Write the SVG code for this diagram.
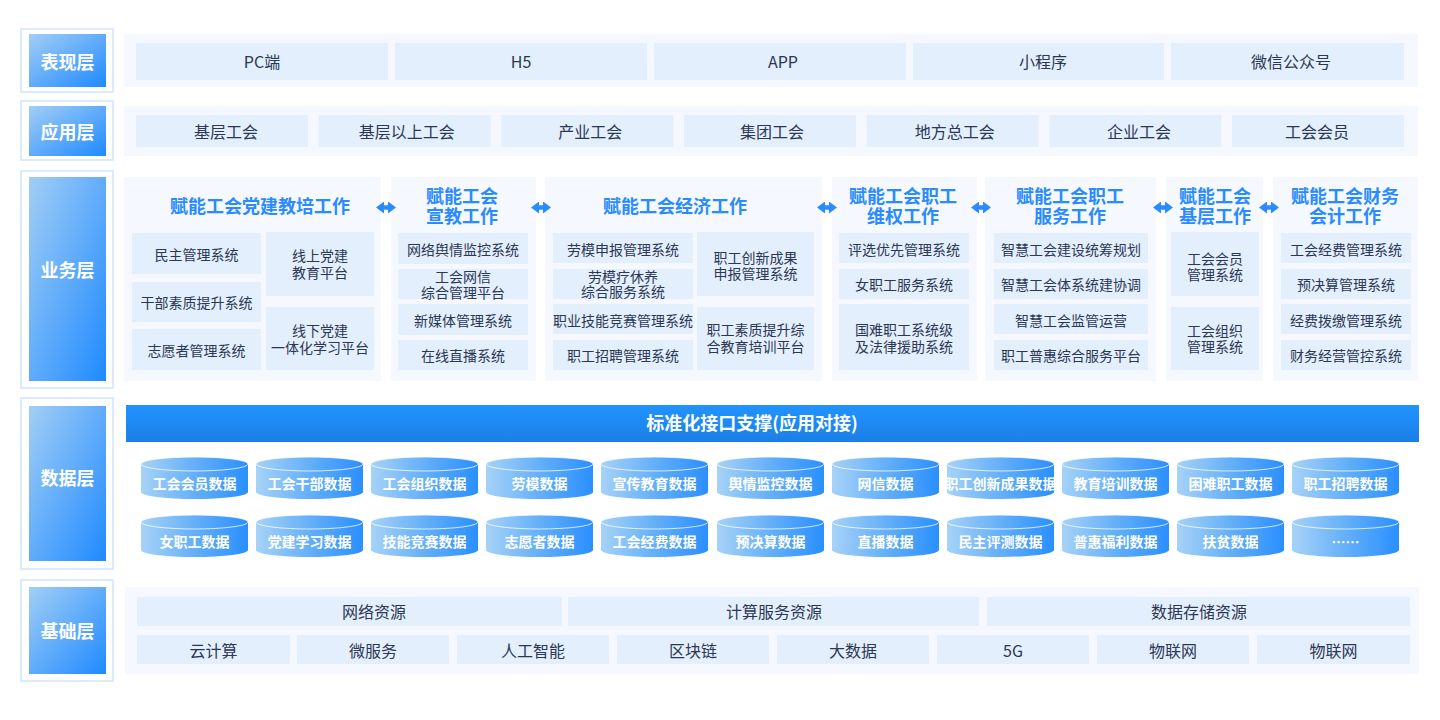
<svg xmlns="http://www.w3.org/2000/svg" xmlns:xlink="http://www.w3.org/1999/xlink" width="1440" height="720" viewBox="0 0 1440 720">
<defs>
  <linearGradient id="gLabel" x1="0" y1="0" x2="1" y2="1">
    <stop offset="0" stop-color="#a2cef5"/>
    <stop offset="1" stop-color="#1f8aff"/>
  </linearGradient>
  <linearGradient id="gBar" x1="0" y1="0" x2="0" y2="1">
    <stop offset="0" stop-color="#2193ff"/>
    <stop offset="1" stop-color="#1b80e6"/>
  </linearGradient>
  <linearGradient id="gCyl" x1="0" y1="0" x2="1" y2="0">
    <stop offset="0" stop-color="#a6d2f7"/>
    <stop offset="0.55" stop-color="#5eacf9"/>
    <stop offset="1" stop-color="#2a8fff"/>
  </linearGradient>
  <g id="cyl">
    <path d="M0,7 V35 A53.5,7 0 0 0 107,35 V7 Z" fill="url(#gCyl)"/>
    <ellipse cx="53.5" cy="7" rx="53.5" ry="7" fill="url(#gCyl)" stroke="#ffffff" stroke-opacity="0.75" stroke-width="1"/>
  </g>
  <marker id="ah" viewBox="0 0 8 12" refX="1" refY="6" markerWidth="8" markerHeight="12" markerUnits="userSpaceOnUse" orient="auto-start-reverse">
    <path d="M0,0 L8,6 L0,12 Z" fill="#2a8bff"/>
  </marker>
</defs>
<style>
  text { font-family: "Noto Sans CJK SC", "Noto Sans", sans-serif; text-anchor: middle; dominant-baseline: central; }
  .lo { fill: #ffffff; stroke: #cfe3fb; stroke-width: 1.5; }
  .li { fill: url(#gLabel); }
  .lt { fill: #ffffff; font-size: 18px; font-weight: bold; }
  .pn { fill: #f5f9ff; }
  .bx { fill: #e4effd; }
  .t16 { fill: #2b3753; font-size: 16px; }
  .t14 { fill: #2b3753; font-size: 14px; }
  .ttl { fill: #2a8bff; font-size: 18px; font-weight: bold; }
  .dt { fill: #ffffff; font-size: 14px; font-weight: bold; }
  .bar { fill: url(#gBar); }
  .bt { fill: #ffffff; font-size: 18px; font-weight: bold; }
  .arr { stroke: #2a8bff; stroke-width: 4.5; fill: none; marker-start: url(#ah); marker-end: url(#ah); }
</style>
<rect width="1440" height="720" fill="#ffffff"/>

<!-- Layer labels -->
<g id="layer-presentation">
  <rect class="lo" x="21" y="29" width="92" height="63"/>
  <rect class="li" x="29" y="34" width="77" height="53"/>
  <text class="lt" x="67.5" y="61">表现层</text>
</g>
<g id="layer-application">
  <rect class="lo" x="21" y="101" width="92" height="59"/>
  <rect class="li" x="29" y="106" width="77" height="50"/>
  <text class="lt" x="67.5" y="131">应用层</text>
</g>
<g id="layer-business">
  <rect class="lo" x="21" y="171" width="92" height="217"/>
  <rect class="li" x="29" y="177" width="77" height="204"/>
  <text class="lt" x="67.5" y="269">业务层</text>
</g>
<g id="layer-data">
  <rect class="lo" x="21" y="398" width="92" height="171"/>
  <rect class="li" x="29" y="406" width="77" height="155"/>
  <text class="lt" x="67.5" y="477">数据层</text>
</g>
<g id="layer-base">
  <rect class="lo" x="21" y="580" width="92" height="101"/>
  <rect class="li" x="29" y="587" width="77" height="87"/>
  <text class="lt" x="67.5" y="630">基础层</text>
</g>

<!-- Presentation row -->
<g id="presentation-panel">
  <rect class="pn" x="124" y="34" width="1294" height="53"/>
</g>
<g id="p-pc"><rect class="bx" x="136" y="43" width="252" height="37"/><text class="t16" x="262" y="61">PC端</text></g>
<g id="p-h5"><rect class="bx" x="395" y="43" width="252" height="37"/><text class="t16" x="521" y="61">H5</text></g>
<g id="p-app"><rect class="bx" x="654" y="43" width="252" height="37"/><text class="t16" x="783" y="61">APP</text></g>
<g id="p-mini"><rect class="bx" x="913" y="43" width="251" height="37"/><text class="t16" x="1043" y="61">小程序</text></g>
<g id="p-wechat"><rect class="bx" x="1171" y="43" width="233" height="37"/><text class="t16" x="1291" y="61">微信公众号</text></g>

<!-- Application row -->
<g id="application-panel">
  <rect class="pn" x="124" y="106" width="1294" height="50"/>
</g>
<g id="a-1"><rect class="bx" x="136" y="115" width="172" height="32"/><text class="t16" x="226" y="131">基层工会</text></g>
<g id="a-2"><rect class="bx" x="318.7" y="115" width="172" height="32"/><text class="t16" x="406.7" y="131">基层以上工会</text></g>
<g id="a-3"><rect class="bx" x="501.3" y="115" width="172" height="32"/><text class="t16" x="590.3" y="131">产业工会</text></g>
<g id="a-4"><rect class="bx" x="684" y="115" width="172" height="32"/><text class="t16" x="772" y="131">集团工会</text></g>
<g id="a-5"><rect class="bx" x="866.7" y="115" width="172" height="32"/><text class="t16" x="954.7" y="131">地方总工会</text></g>
<g id="a-6"><rect class="bx" x="1049.3" y="115" width="172" height="32"/><text class="t16" x="1139" y="131">企业工会</text></g>
<g id="a-7"><rect class="bx" x="1232" y="115" width="172" height="32"/><text class="t16" x="1317" y="131">工会会员</text></g>

<!-- Business panels -->
<g id="biz-party">
  <rect class="pn" x="124" y="177" width="257" height="204"/>
  <text class="ttl" x="260" y="205">赋能工会党建教培工作</text>
  <rect class="bx" x="132" y="233" width="129" height="41"/><text class="t14" x="196.5" y="254">民主管理系统</text>
  <rect class="bx" x="132" y="282" width="129" height="40"/><text class="t14" x="196.5" y="302">干部素质提升系统</text>
  <rect class="bx" x="132" y="329" width="129" height="41"/><text class="t14" x="196.5" y="350">志愿者管理系统</text>
  <rect class="bx" x="266" y="232" width="108" height="64"/><text class="t14" x="320" y="255"><tspan x="320" dy="0">线上党建</tspan><tspan x="320" dy="17">教育平台</tspan></text>
  <rect class="bx" x="266" y="307" width="108" height="63"/><text class="t14" x="320" y="330"><tspan x="320" dy="0">线下党建</tspan><tspan x="320" dy="17">一体化学习平台</tspan></text>
</g>
<g id="biz-publicity">
  <rect class="pn" x="391" y="177" width="145" height="204"/>
  <text class="ttl" x="462" y="195"><tspan x="462" dy="0">赋能工会</tspan><tspan x="462" dy="19.5">宣教工作</tspan></text>
  <rect class="bx" x="398" y="233" width="130" height="31"/><text class="t14" x="463" y="249">网络舆情监控系统</text>
  <rect class="bx" x="398" y="269" width="130" height="30"/><text class="t14" x="463" y="276"><tspan x="463" dy="0">工会网信</tspan><tspan x="463" dy="16">综合管理平台</tspan></text>
  <rect class="bx" x="398" y="304" width="130" height="31"/><text class="t14" x="463" y="320">新媒体管理系统</text>
  <rect class="bx" x="398" y="340" width="130" height="30"/><text class="t14" x="463" y="355">在线直播系统</text>
</g>
<g id="biz-economy">
  <rect class="pn" x="545" y="177" width="277" height="204"/>
  <text class="ttl" x="675" y="205">赋能工会经济工作</text>
  <rect class="bx" x="553" y="233" width="140" height="30"/><text class="t14" x="623" y="249">劳模申报管理系统</text>
  <rect class="bx" x="553" y="269" width="140" height="30"/><text class="t14" x="623" y="276"><tspan x="623" dy="0">劳模疗休养</tspan><tspan x="623" dy="15">综合服务系统</tspan></text>
  <rect class="bx" x="553" y="304" width="140" height="30"/><text class="t14" x="623" y="320">职业技能竞赛管理系统</text>
  <rect class="bx" x="553" y="340" width="140" height="30"/><text class="t14" x="623" y="355">职工招聘管理系统</text>
  <rect class="bx" x="697" y="232" width="117" height="64"/><text class="t14" x="755.5" y="257"><tspan x="755.5" dy="0">职工创新成果</tspan><tspan x="755.5" dy="15.5">申报管理系统</tspan></text>
  <rect class="bx" x="697" y="307" width="117" height="63"/><text class="t14" x="755.5" y="329"><tspan x="755.5" dy="0">职工素质提升综</tspan><tspan x="755.5" dy="17">合教育培训平台</tspan></text>
</g>
<g id="biz-rights">
  <rect class="pn" x="832" y="177" width="145" height="204"/>
  <text class="ttl" x="903" y="195"><tspan x="903" dy="0">赋能工会职工</tspan><tspan x="903" dy="19.5">维权工作</tspan></text>
  <rect class="bx" x="839" y="233" width="130" height="30"/><text class="t14" x="904" y="249">评选优先管理系统</text>
  <rect class="bx" x="839" y="269" width="130" height="30"/><text class="t14" x="904" y="284">女职工服务系统</text>
  <rect class="bx" x="839" y="304" width="130" height="66"/><text class="t14" x="904" y="329"><tspan x="904" dy="0">国难职工系统级</tspan><tspan x="904" dy="17">及法律援助系统</tspan></text>
</g>
<g id="biz-service">
  <rect class="pn" x="985" y="177" width="171" height="204"/>
  <text class="ttl" x="1070" y="195"><tspan x="1070" dy="0">赋能工会职工</tspan><tspan x="1070" dy="19.5">服务工作</tspan></text>
  <rect class="bx" x="994" y="233" width="154" height="30"/><text class="t14" x="1071" y="249">智慧工会建设统筹规划</text>
  <rect class="bx" x="994" y="269" width="154" height="30"/><text class="t14" x="1071" y="284">智慧工会体系统建协调</text>
  <rect class="bx" x="994" y="304" width="154" height="30"/><text class="t14" x="1071" y="320">智慧工会监管运营</text>
  <rect class="bx" x="994" y="340" width="154" height="30"/><text class="t14" x="1071" y="355">职工普惠综合服务平台</text>
</g>
<g id="biz-grassroots">
  <rect class="pn" x="1166" y="177" width="97" height="204"/>
  <text class="ttl" x="1215" y="195"><tspan x="1215" dy="0">赋能工会</tspan><tspan x="1215" dy="19.5">基层工作</tspan></text>
  <rect class="bx" x="1171" y="232" width="88" height="64"/><text class="t14" x="1215" y="258"><tspan x="1215" dy="0">工会会员</tspan><tspan x="1215" dy="16">管理系统</tspan></text>
  <rect class="bx" x="1171" y="307" width="88" height="63"/><text class="t14" x="1215" y="330"><tspan x="1215" dy="0">工会组织</tspan><tspan x="1215" dy="16">管理系统</tspan></text>
</g>
<g id="biz-finance">
  <rect class="pn" x="1273" y="177" width="145" height="204"/>
  <text class="ttl" x="1345" y="195"><tspan x="1345" dy="0">赋能工会财务</tspan><tspan x="1345" dy="19.5">会计工作</tspan></text>
  <rect class="bx" x="1281" y="233" width="130" height="30"/><text class="t14" x="1346" y="249">工会经费管理系统</text>
  <rect class="bx" x="1281" y="269" width="130" height="30"/><text class="t14" x="1346" y="284">预决算管理系统</text>
  <rect class="bx" x="1281" y="304" width="130" height="30"/><text class="t14" x="1346" y="320">经费拨缴管理系统</text>
  <rect class="bx" x="1281" y="340" width="130" height="30"/><text class="t14" x="1346" y="355">财务经营管控系统</text>
</g>

<!-- Connectors -->
<g id="connectors">
  <line class="arr" x1="383" y1="207.5" x2="389" y2="207.5"/>
  <line class="arr" x1="538" y1="207.5" x2="544" y2="207.5"/>
  <line class="arr" x1="824" y1="207.5" x2="830" y2="207.5"/>
  <line class="arr" x1="978" y1="207.5" x2="984" y2="207.5"/>
  <line class="arr" x1="1160" y1="207.5" x2="1166" y2="207.5"/>
  <line class="arr" x1="1266" y1="207.5" x2="1272" y2="207.5"/>
</g>

<!-- Data layer -->
<g id="data-interface">
  <rect class="bar" x="126" y="405" width="1293" height="37"/>
  <text class="bt" x="752" y="422">标准化接口支撑(应用对接)</text>
</g>
<g id="db-r1c1" transform="translate(141,457)"><use href="#cyl"/><text class="dt" x="53.5" y="26">工会会员数据</text></g>
<g id="db-r1c2" transform="translate(256,457)"><use href="#cyl"/><text class="dt" x="53.5" y="26">工会干部数据</text></g>
<g id="db-r1c3" transform="translate(371,457)"><use href="#cyl"/><text class="dt" x="53.5" y="26">工会组织数据</text></g>
<g id="db-r1c4" transform="translate(486,457)"><use href="#cyl"/><text class="dt" x="53.5" y="26">劳模数据</text></g>
<g id="db-r1c5" transform="translate(601,457)"><use href="#cyl"/><text class="dt" x="53.5" y="26">宣传教育数据</text></g>
<g id="db-r1c6" transform="translate(717,457)"><use href="#cyl"/><text class="dt" x="53.5" y="26">舆情监控数据</text></g>
<g id="db-r1c7" transform="translate(832,457)"><use href="#cyl"/><text class="dt" x="53.5" y="26">网信数据</text></g>
<g id="db-r1c8" transform="translate(947,457)"><use href="#cyl"/><text class="dt" x="53.5" y="26">职工创新成果数据</text></g>
<g id="db-r1c9" transform="translate(1062,457)"><use href="#cyl"/><text class="dt" x="53.5" y="26">教育培训数据</text></g>
<g id="db-r1c10" transform="translate(1177,457)"><use href="#cyl"/><text class="dt" x="53.5" y="26">困难职工数据</text></g>
<g id="db-r1c11" transform="translate(1292,457)"><use href="#cyl"/><text class="dt" x="53.5" y="26">职工招聘数据</text></g>

<g id="db-r2c1" transform="translate(141,515)"><use href="#cyl"/><text class="dt" x="53.5" y="26">女职工数据</text></g>
<g id="db-r2c2" transform="translate(256,515)"><use href="#cyl"/><text class="dt" x="53.5" y="26">党建学习数据</text></g>
<g id="db-r2c3" transform="translate(371,515)"><use href="#cyl"/><text class="dt" x="53.5" y="26">技能竞赛数据</text></g>
<g id="db-r2c4" transform="translate(486,515)"><use href="#cyl"/><text class="dt" x="53.5" y="26">志愿者数据</text></g>
<g id="db-r2c5" transform="translate(601,515)"><use href="#cyl"/><text class="dt" x="53.5" y="26">工会经费数据</text></g>
<g id="db-r2c6" transform="translate(717,515)"><use href="#cyl"/><text class="dt" x="53.5" y="26">预决算数据</text></g>
<g id="db-r2c7" transform="translate(832,515)"><use href="#cyl"/><text class="dt" x="53.5" y="26">直播数据</text></g>
<g id="db-r2c8" transform="translate(947,515)"><use href="#cyl"/><text class="dt" x="53.5" y="26">民主评测数据</text></g>
<g id="db-r2c9" transform="translate(1062,515)"><use href="#cyl"/><text class="dt" x="53.5" y="26">普惠福利数据</text></g>
<g id="db-r2c10" transform="translate(1177,515)"><use href="#cyl"/><text class="dt" x="53.5" y="26">扶贫数据</text></g>
<g id="db-r2c11" transform="translate(1292,515)"><use href="#cyl"/><text class="dt" x="53.5" y="26">……</text></g>

<!-- Base layer -->
<g id="base-panel">
  <rect class="pn" x="125" y="587" width="1294" height="87"/>
</g>
<g id="b-net"><rect class="bx" x="137" y="597" width="425" height="29"/><text class="t16" x="374" y="611">网络资源</text></g>
<g id="b-compute"><rect class="bx" x="568" y="597" width="411" height="29"/><text class="t16" x="774" y="611">计算服务资源</text></g>
<g id="b-storage"><rect class="bx" x="987" y="597" width="423" height="29"/><text class="t16" x="1199" y="611">数据存储资源</text></g>
<g id="b-1"><rect class="bx" x="137" y="635" width="153" height="29"/><text class="t16" x="213.5" y="650">云计算</text></g>
<g id="b-2"><rect class="bx" x="297" y="635" width="152" height="29"/><text class="t16" x="373" y="650">微服务</text></g>
<g id="b-3"><rect class="bx" x="457" y="635" width="152" height="29"/><text class="t16" x="533" y="650">人工智能</text></g>
<g id="b-4"><rect class="bx" x="617" y="635" width="152" height="29"/><text class="t16" x="693" y="650">区块链</text></g>
<g id="b-5"><rect class="bx" x="777" y="635" width="152" height="29"/><text class="t16" x="853" y="650">大数据</text></g>
<g id="b-6"><rect class="bx" x="937" y="635" width="152" height="29"/><text class="t16" x="1013" y="650">5G</text></g>
<g id="b-7"><rect class="bx" x="1097" y="635" width="152" height="29"/><text class="t16" x="1173" y="650">物联网</text></g>
<g id="b-8"><rect class="bx" x="1257" y="635" width="153" height="29"/><text class="t16" x="1333.5" y="650">物联网</text></g>
</svg>
